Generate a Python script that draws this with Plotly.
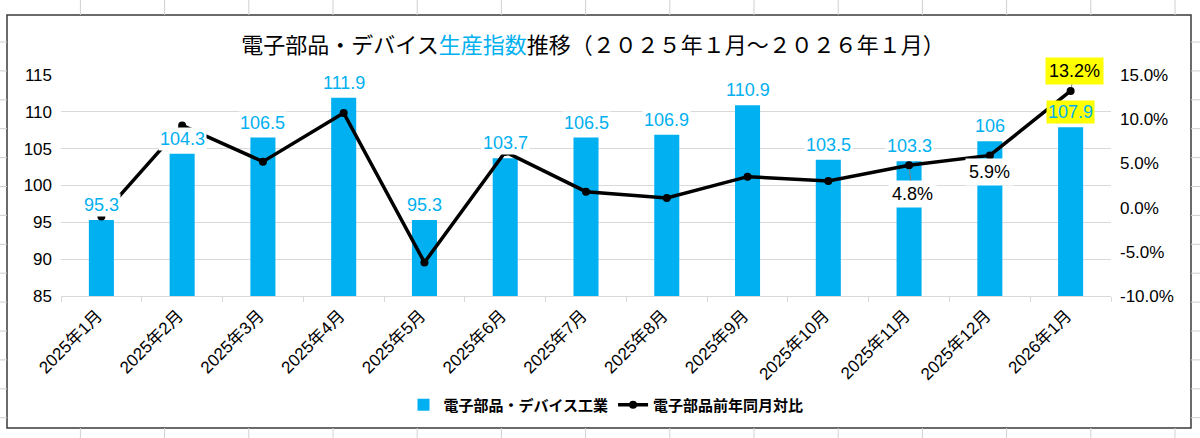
import plotly.graph_objects as go

# data
months = ['2025年1月', '2025年2月', '2025年3月', '2025年4月', '2025年5月', '2025年6月',
          '2025年7月', '2025年8月', '2025年9月', '2025年10月', '2025年11月', '2025年12月',
          '2026年1月']
index_vals = [95.3, 104.3, 106.5, 111.9, 95.3, 103.7, 106.5, 106.9, 110.9, 103.5, 103.3, 106, 107.9]
yoy = [-0.010, 0.093, 0.052, 0.107, -0.062, 0.063, 0.018, 0.011, 0.035, 0.030, 0.048, 0.059, 0.132]
yoy_labeled = {10: '4.8%', 11: '5.9%', 12: '13.2%'}
y2_ticks = [-0.10, -0.05, 0.0, 0.05, 0.10, 0.15]
y2_text = ['-10.0%', '-5.0%', '0.0%', '5.0%', '10.0%', '15.0%']

BLUE = '#00B0F0'
FONT = 'Liberation Sans, Noto Sans CJK JP, sans-serif'
W, H = 1200, 438
L, R, T, B = 61, 1111, 75, 296   # plot area in pixels


def px(x):
    return (x - L) / (R - L)


def py(y):
    return (B - y) / (B - T)


fig = go.Figure()
fig.add_trace(go.Bar(name='電子部品・デバイス工業', x=months, y=index_vals,
                     marker_color=BLUE, marker_line_width=0))
fig.add_trace(go.Scatter(name='電子部品前年同月対比', x=months, y=yoy, yaxis='y2',
                         mode='lines+markers',
                         line=dict(color='black', width=3.5),
                         marker=dict(color='black', size=8)))

annotations = []
# bar value labels (white box covers the line like in excel)
for i, (m, v) in enumerate(zip(months, index_vals)):
    last = i == len(months) - 1
    annotations.append(dict(x=m, y=v, xref='x', yref='y', text=f'{v:g}', showarrow=False,
                            yshift=15, yanchor='middle',
                            font=dict(family=FONT, size=18, color=BLUE),
                            bgcolor='#FFFF00' if last else 'white', borderpad=1))

# yoy labels, only the last three months
offsets = {10: (3, 29, True), 11: (0, 17, False), 12: (4, -20, True)}
for i, txt in yoy_labeled.items():
    ax, ay, arrow = offsets[i]
    a = dict(x=months[i], y=yoy[i], xref='x', yref='y2', text=txt,
             font=dict(family=FONT, size=18, color='black'),
             bgcolor='#FFFF00' if i == 12 else 'white', borderpad=3)
    if arrow:
        a.update(showarrow=True, ax=ax, ay=ay, arrowhead=0, arrowwidth=1,
                 arrowcolor='#808080', standoff=4)
    else:
        a.update(showarrow=False, yshift=-ay, yanchor='middle')
    annotations.append(a)

# spreadsheet grid behind the chart object, and the chart frame
shapes = [dict(type='rect', xref='paper', yref='paper', layer='below',
               x0=px(7), x1=px(1191), y0=py(428), y1=py(15),
               fillcolor='white', line=dict(color='#3a3a3a', width=1.5))]
for k in range(14):
    xx = px(80.4 + 84.2 * k)
    for y0, y1 in [(0, 15), (428, 438)]:
        shapes.append(dict(type='line', xref='paper', yref='paper', layer='below',
                           x0=xx, x1=xx, y0=py(y0), y1=py(y1),
                           line=dict(color='#d0d0d0', width=1)))
for k in range(14):
    yy = py(42 + 28.9 * k)
    for x0, x1 in [(0, 7), (1191, 1200)]:
        shapes.append(dict(type='line', xref='paper', yref='paper', layer='below',
                           x0=px(x0), x1=px(x1), y0=yy, y1=yy,
                           line=dict(color='#d0d0d0', width=1)))

fig.update_layout(
    width=W, height=H,
    margin=dict(l=L, r=W - R, t=T, b=H - B, pad=0, autoexpand=False),
    paper_bgcolor='white', plot_bgcolor='rgba(0,0,0,0)',
    font=dict(family=FONT, size=17, color='black'),
    bargap=0.69,
    title=dict(text='電子部品・デバイス<span style="color:#00B0F0">生産指数</span>'
                    '推移（２０２５年１月～２０２６年１月）',
               x=px(593), xref='paper', xanchor='center',
               y=1 - 45 / H, yref='container', yanchor='middle',
               font=dict(family=FONT, size=22, color='black')),
    xaxis=dict(range=[-0.5, len(months) - 0.5], autorange=False,
               tickangle=-45, tickfont=dict(size=17), showline=True, linecolor='#d9d9d9',
               ticks='outside', tickson='boundaries', ticklen=5, tickcolor='#d9d9d9',
               showgrid=False, ticklabelshift=-4, ticklabelstandoff=2, automargin=False),
    yaxis=dict(range=[85, 115], dtick=5, tickfont=dict(size=17), showgrid=True,
               gridcolor='#d9d9d9', gridwidth=1, zeroline=False, ticklabelstandoff=8,
               automargin=False),
    yaxis2=dict(overlaying='y', side='right', range=[-0.10, 0.15], tickvals=y2_ticks,
                ticktext=y2_text, tickfont=dict(size=17), showgrid=False, zeroline=False,
                ticklabelstandoff=8, automargin=False),
    legend=dict(orientation='h', x=px(606), xanchor='center', y=py(405), yanchor='middle',
                font=dict(size=15, weight='bold'), bgcolor='rgba(0,0,0,0)'),
    annotations=annotations,
    shapes=shapes,
)

# drop the default page margin so the figure sits at the window corner
fig.write_html('out.html', config={'displayModeBar': False},
               post_script="document.body.style.margin='0';")
